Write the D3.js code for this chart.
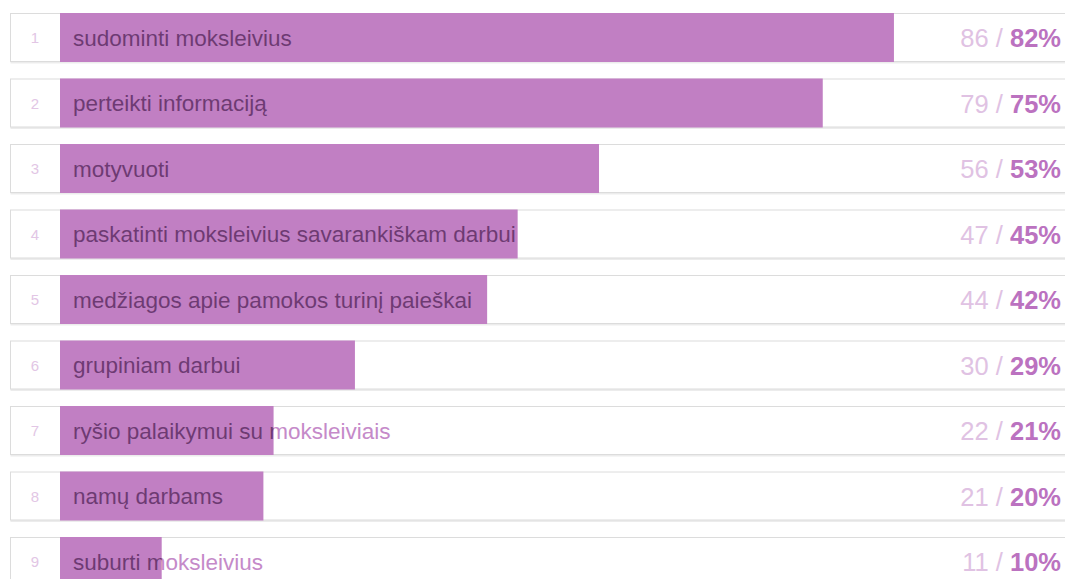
<!DOCTYPE html>
<html>
<head>
<meta charset="utf-8">
<script src="https://cdn.jsdelivr.net/npm/d3@7"></script>
<style>
  body { margin: 0; background: #fff; }
  svg { display: block; font-family: "Liberation Sans", Arial, sans-serif; }
</style>
</head>
<body>
<div id="chart"></div>
<script>
const labels = [
  'sudominti moksleivius',
  'perteikti informaciją',
  'motyvuoti',
  'paskatinti moksleivius savarankiškam darbui',
  'medžiagos apie pamokos turinį paieškai',
  'grupiniam darbui',
  'ryšio palaikymui su moksleiviais',
  'namų darbams',
  'suburti moksleivius'
];
const counts = [86, 79, 56, 47, 44, 30, 22, 21, 11];
const percents = [82, 75, 53, 45, 42, 29, 21, 20, 10];

const width = 1065;
const height = 579;

const rows = labels.map((label, i) => ({ rank: i + 1, label, count: counts[i], pct: percents[i] }));

const svg = d3.select('#chart')
  .append('svg')
  .attr('width', width)
  .attr('height', height);

const y = d3.scaleBand()
  .domain(rows.map(d => d.rank))
  .range([13, 586])
  .paddingInner(0.252)
  .paddingOuter(0);

const x = d3.scaleLinear()
  .domain([0, 100])
  .range([60, 1077]);

const defs = svg.append('defs');
defs.selectAll('clipPath')
  .data(rows)
  .enter()
  .append('clipPath')
  .attr('id', d => 'clip' + d.rank)
  .append('rect')
  .attr('x', x(0))
  .attr('y', d => y(d.rank))
  .attr('width', d => x(d.pct) - x(0))
  .attr('height', y.bandwidth());

const row = svg.selectAll('.row')
  .data(rows)
  .enter()
  .append('g')
  .attr('class', 'row');

// box with a light bottom shadow
row.append('rect')
  .attr('x', 10.5)
  .attr('y', d => y(d.rank) + 1.5)
  .attr('width', 1080)
  .attr('height', y.bandwidth())
  .attr('fill', '#ececec');

row.append('rect')
  .attr('x', 10.5)
  .attr('y', d => y(d.rank) + 0.5)
  .attr('width', 1080)
  .attr('height', y.bandwidth() - 1)
  .attr('fill', '#fff')
  .attr('stroke', '#dcdcdc');

row.append('rect')
  .attr('x', x(0))
  .attr('y', d => y(d.rank))
  .attr('width', d => x(d.pct) - x(0))
  .attr('height', y.bandwidth())
  .attr('fill', '#c17fc3');

row.append('text')
  .attr('x', 35)
  .attr('y', d => y(d.rank) + y.bandwidth() / 2)
  .attr('dy', '0.38em')
  .attr('text-anchor', 'middle')
  .style('font-size', '15px')
  .style('fill', '#e2c6e5')
  .text(d => d.rank);

// label: light purple outside the bar, dark inside it
row.append('text')
  .attr('x', 73)
  .attr('y', d => y(d.rank) + y.bandwidth() / 2)
  .attr('dy', '0.36em')
  .style('font-size', '22.5px')
  .style('fill', '#c58ac9')
  .text(d => d.label);

row.append('text')
  .attr('x', 73)
  .attr('y', d => y(d.rank) + y.bandwidth() / 2)
  .attr('dy', '0.36em')
  .attr('clip-path', d => `url(#clip${d.rank})`)
  .style('font-size', '22.5px')
  .style('fill', '#6e3a73')
  .text(d => d.label);

const val = row.append('text')
  .attr('x', 1061)
  .attr('y', d => y(d.rank) + y.bandwidth() / 2)
  .attr('dy', '0.38em')
  .attr('text-anchor', 'end')
  .style('font-size', '25.5px');

val.append('tspan')
  .style('fill', '#e0c2e3')
  .text(d => d.count + ' / ');

val.append('tspan')
  .style('fill', '#bb72c0')
  .style('font-weight', 'bold')
  .text(d => d.pct + '%');
</script>
</body>
</html>
